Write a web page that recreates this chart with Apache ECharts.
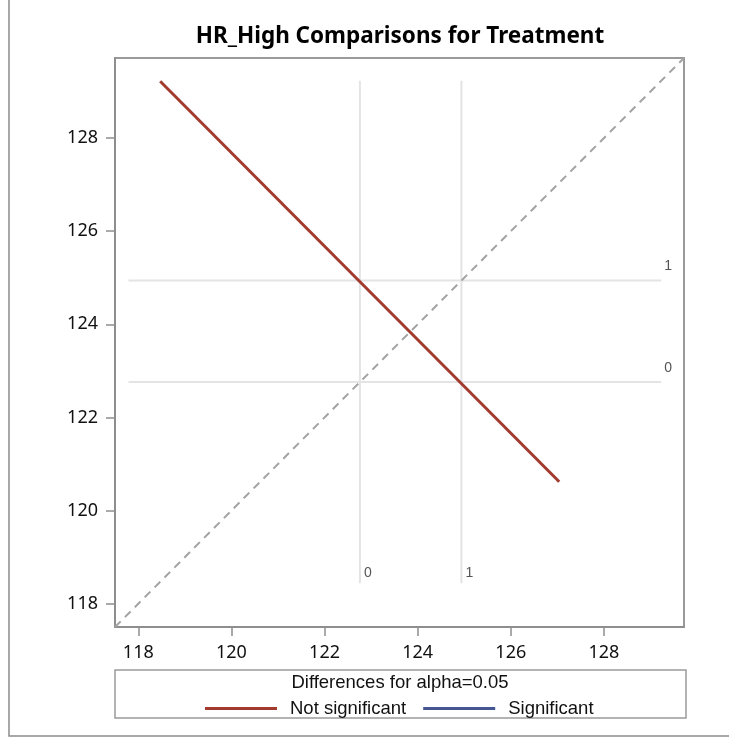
<!DOCTYPE html>
<html>
<head>
<meta charset="utf-8">
<script src="https://cdn.jsdelivr.net/npm/echarts@6/dist/echarts.min.js"></script>
<style>
html,body{margin:0;padding:0;background:#fff;}
#chart{width:729px;height:737px;}
</style>
</head>
<body>
<div id="chart"></div>
<script>
// ---- data ----
var levels = ['0', '1'];
var levelMeans = [122.76, 124.94];
var diffSegX = [118.47, 127.04];   // confidence segment ends (x = level 0 side)
var diffSegY = [129.22, 120.62];   // confidence segment ends (y = level 1 side)
var tickValues = [118, 120, 122, 124, 126, 128];
var axisMin = 117.5, axisMax = 129.72;

var chart = echarts.init(document.getElementById('chart'), null, {renderer: 'canvas'});

var refLo = 118.44, refHi = 129.23, refLeft = 117.79;
var refSeries = [];
levelMeans.forEach(function (m, i) {
  refSeries.push({
    type: 'line', silent: true, symbol: 'none', z: 1,
    lineStyle: {color: '#e4e4e4', width: 2},
    data: [{value: [m, refLo], symbol: 'circle', symbolSize: 0,
            label: {show: true, formatter: levels[i], position: 'right', offset: [-1, -10],
                    color: '#555', fontSize: 14, fontFamily: 'Liberation Sans'}},
           [m, refHi]]
  });
  refSeries.push({
    type: 'line', silent: true, symbol: 'none', z: 1,
    lineStyle: {color: '#e4e4e4', width: 2},
    data: [[refLeft, m],
           {value: [refHi, m], symbol: 'circle', symbolSize: 0,
            label: {show: true, formatter: levels[i], position: 'top', offset: [7, -2],
                    color: '#555', fontSize: 14, fontFamily: 'Liberation Sans'}}]
  });
});

var axisCommon = {
  type: 'value', min: axisMin, max: axisMax,
  axisLine: {show: true, onZero: false, lineStyle: {color: '#8e8e8e', width: 2}},
  axisTick: {show: true, length: 9, customValues: tickValues, lineStyle: {color: '#8e8e8e', width: 1.5}},
  axisLabel: {customValues: tickValues, color: '#111', fontSize: 18, fontFamily: 'Noto Sans', margin: 12},
  splitLine: {show: false}
};

var option = {
  animation: false,
  backgroundColor: '#fff',
  title: {
    text: 'HR_High Comparisons for Treatment',
    left: 395, top: 20, textAlign: 'center',
    textStyle: {fontSize: 22.5, fontWeight: 'bold', color: '#000', fontFamily: 'Noto Sans'}
  },
  grid: {left: 115, right: 45, top: 58, bottom: 110, show: true, borderColor: '#9a9a9a', borderWidth: 2, containLabel: false},
  xAxis: Object.assign({}, axisCommon, {axisLabel: Object.assign({}, axisCommon.axisLabel, {margin: 17})}),
  yAxis: Object.assign({}, axisCommon, {axisLabel: Object.assign({}, axisCommon.axisLabel, {margin: 17})}),
  legend: {
    left: 205, top: 699, padding: 0, itemGap: 17, itemWidth: 72, itemHeight: 3, icon: 'rect',
    textStyle: {fontSize: 18.5, color: '#111', fontFamily: 'Liberation Sans', padding: [0, 0, 0, 8]},
    data: ['Not significant', 'Significant']
  },
  graphic: [
    {type: 'rect', shape: {x: 9, y: -5, width: 740, height: 741}, style: {fill: null, stroke: '#8c8c8c', lineWidth: 1.5}, silent: true},
    {type: 'rect', shape: {x: 115, y: 670, width: 571, height: 48}, style: {fill: null, stroke: '#9a9a9a', lineWidth: 1.5}, silent: true},
    {type: 'text', x: 400, y: 683, style: {text: 'Differences for alpha=0.05', fontSize: 18.5, fontFamily: 'Liberation Sans', fill: '#111', align: 'center', verticalAlign: 'middle'}, silent: true}
  ],
  series: refSeries.concat([
    {
      name: 'diag', type: 'line', silent: true, symbol: 'none', z: 2,
      lineStyle: {color: '#a3a3a3', width: 2, type: [8, 6]},
      data: [[axisMin, axisMin], [axisMax, axisMax]]
    },
    {
      name: 'Not significant', type: 'line', symbol: 'none', z: 3,
      color: '#A23A2E', lineStyle: {color: '#A23A2E', width: 3},
      data: [[diffSegX[0], diffSegY[0]], [diffSegX[1], diffSegY[1]]]
    },
    {
      name: 'Significant', type: 'line', symbol: 'none', z: 3,
      color: '#445694', lineStyle: {color: '#445694', width: 3},
      data: []
    }
  ])
};
chart.setOption(option);
</script>
</body>
</html>
